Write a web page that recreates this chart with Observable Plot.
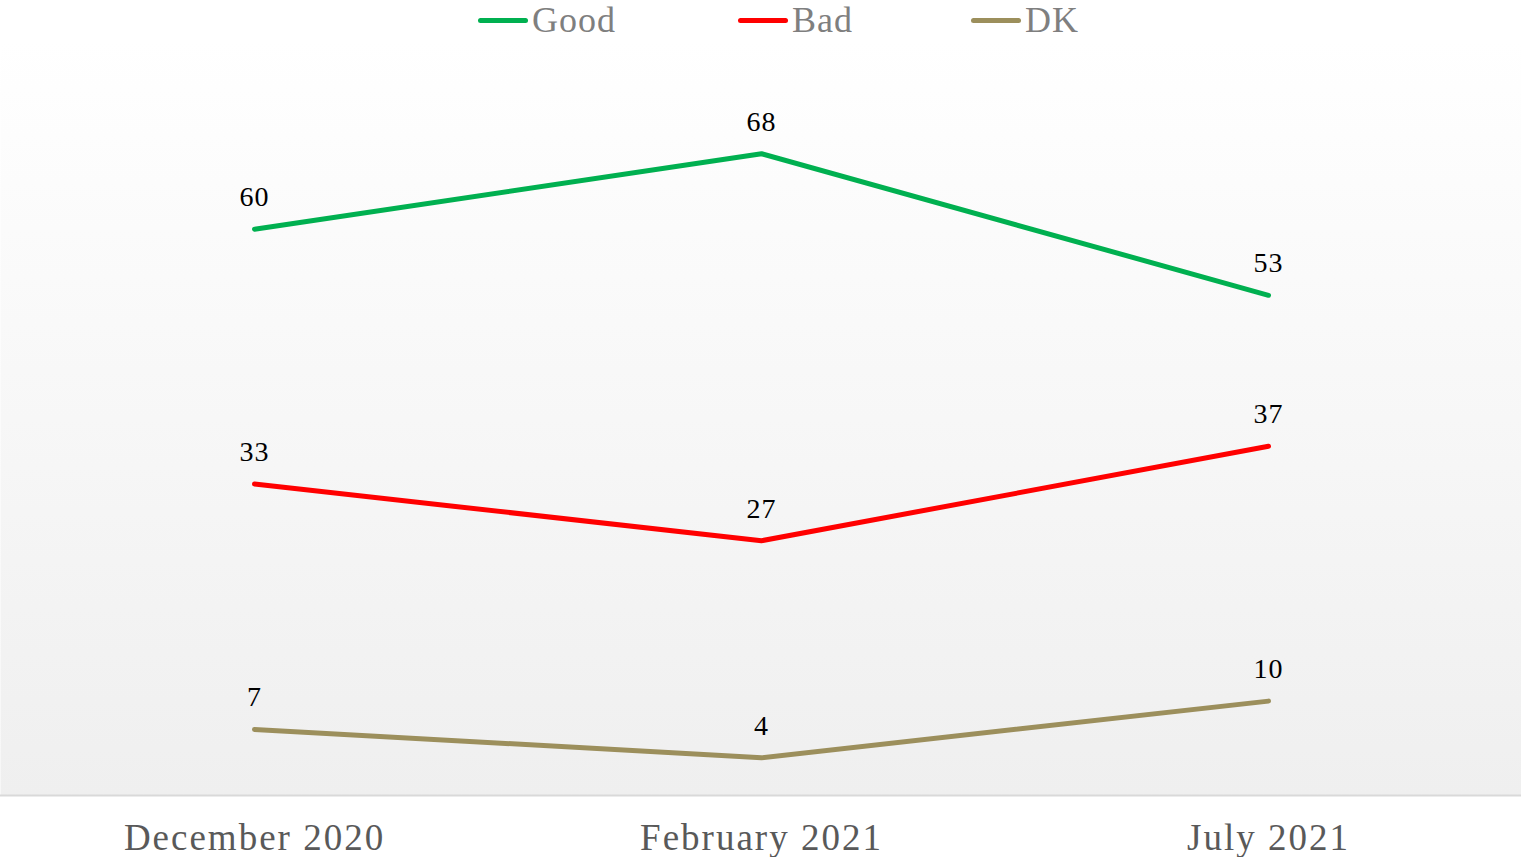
<!DOCTYPE html>
<html>
<head>
<meta charset="utf-8">
<script src="https://cdn.jsdelivr.net/npm/d3@7"></script>
<script src="https://cdn.jsdelivr.net/npm/@observablehq/plot@0.6"></script>
<style>
  html, body { margin: 0; padding: 0; background: #ffffff; }
  #legend { height: 40px; display: flex; align-items: center; padding-left: 478px; box-sizing: border-box;
            font-family: "Liberation Serif", serif; font-size: 36px; color: #7f7f7f; letter-spacing: 1px; }
  .item { display: flex; align-items: center; }
  .sw { width: 50px; height: 5px; border-radius: 3px; margin-right: 4px; }
  #chart svg { display: block; }
</style>
</head>
<body>
<div id="legend"></div>
<div id="chart"></div>
<script>
const periods = ["December 2020", "February 2021", "July 2021"];
const seriesNames = ["Good", "Bad", "DK"];
const seriesColors = ["#00b050", "#ff0000", "#9c8f5c"];
const good = [60, 68, 53];
const bad = [33, 27, 37];
const dk = [7, 4, 10];

const valuesBySeries = { Good: good, Bad: bad, DK: dk };
const rows = [];
for (const s of seriesNames) {
  valuesBySeries[s].forEach((v, i) => rows.push({ series: s, period: periods[i], value: v }));
}

// Legend (HTML, above the SVG)
const legendWidths = [260, 233, 150];
const legend = document.getElementById("legend");
seriesNames.forEach((s, i) => {
  const item = document.createElement("div");
  item.className = "item";
  item.style.width = legendWidths[i] + "px";
  const sw = document.createElement("div");
  sw.className = "sw";
  sw.style.background = seriesColors[i];
  const label = document.createElement("span");
  label.textContent = s;
  item.appendChild(sw);
  item.appendChild(label);
  legend.appendChild(item);
});

const chart = Plot.plot({
  width: 1521,
  height: 817,
  marginTop: 0,
  marginBottom: 62,
  marginLeft: 0,
  marginRight: 0,
  style: { fontFamily: "'Liberation Serif', serif", background: "transparent", overflow: "visible" },
  x: { type: "point", domain: periods, padding: 0.5, label: null },
  y: { domain: [0, 80], axis: null },
  color: { domain: seriesNames, range: seriesColors },
  marks: [
    Plot.frame({ fill: "url(#bg)" }),
    Plot.ruleY([0], { stroke: "#d9d9d9", strokeWidth: 2 }),
    Plot.line(rows, { x: "period", y: "value", z: "series", stroke: "series", strokeWidth: 5,
                      strokeLinecap: "round", strokeLinejoin: "round" }),
    Plot.text(rows, { x: "period", y: "value", text: d => String(d.value), dy: -32,
                      fill: "#000000", fontSize: 28 }),
    Plot.axisX({ tickSize: 0, tickPadding: 28, fontSize: 37, fill: "#595959", label: null })
  ]
});

const svg = d3.select(chart);
const defs = svg.insert("defs", ":first-child");
const grad = defs.append("linearGradient").attr("id", "bg")
  .attr("x1", 0).attr("y1", 0).attr("x2", 0).attr("y2", 1);
grad.append("stop").attr("offset", "0%").attr("stop-color", "#ffffff");
grad.append("stop").attr("offset", "100%").attr("stop-color", "#efefef");
svg.selectAll("g[aria-label='x-axis tick label'] text").attr("letter-spacing", 2);
svg.selectAll("g[aria-label='text'] text").attr("letter-spacing", 1);

document.getElementById("chart").appendChild(chart);
</script>
</body>
</html>
